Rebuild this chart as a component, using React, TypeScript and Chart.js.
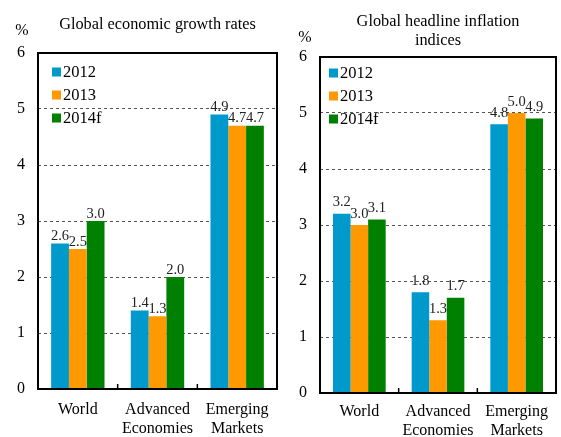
import React, { useEffect, useRef } from "react";
import { Chart, registerables } from "chart.js";

Chart.register(...registerables);

const categories: string[][] = [["World"], ["Advanced", "Economies"], ["Emerging", "Markets"]];
const seriesLabels = ["2012", "2013", "2014f"];
const seriesColors = ["#0099CC", "#FF9900", "#008000"];

const growth2012 = [2.6, 1.4, 4.9];
const growth2013 = [2.5, 1.3, 4.7];
const growth2014f = [3.0, 2.0, 4.7];

const inflation2012 = [3.2, 1.8, 4.8];
const inflation2013 = [3.0, 1.3, 5.0];
const inflation2014f = [3.1, 1.7, 4.9];

const yTicks = [0, 1, 2, 3, 4, 5, 6];

const FONT = "'Liberation Serif', 'Times New Roman', serif";

interface PanelProps {
  titleLines: string[];
  titleY: number[];
  pctY: number;
  pctX: number;
  series: number[][];
  width: number;
  height: number;
  area: { left: number; top: number; right: number; bottom: number };
  legendX: number;
  legendY: number;
  labelGap: number;
  xPad: number;
}

function Panel(p: PanelProps) {
  const ref = useRef<HTMLCanvasElement | null>(null);
  useEffect(() => {
    if (!ref.current) return;
    const overlay = {
      id: "overlay",
      afterDatasetsDraw(chart: any) {
        const ctx = chart.ctx as CanvasRenderingContext2D;
        const ca = chart.chartArea;
        ctx.save();
        // data labels
        ctx.fillStyle = "#222";
        ctx.font = `14.5px ${FONT}`;
        ctx.textAlign = "center";
        ctx.textBaseline = "bottom";
        chart.data.datasets.forEach((ds: any, di: number) => {
          const meta = chart.getDatasetMeta(di);
          meta.data.forEach((el: any, i: number) => {
            ctx.fillText(Number(ds.data[i]).toFixed(1), el.x, el.y - p.labelGap);
          });
        });
        // frame
        ctx.strokeStyle = "#000";
        ctx.lineWidth = 2;
        ctx.strokeRect(ca.left, ca.top, ca.right - ca.left, ca.bottom - ca.top);
        // category boundary ticks
        const xs = chart.scales.x;
        ctx.lineWidth = 1.5;
        for (let i = 0; i < categories.length - 1; i++) {
          const bx = (xs.getPixelForValue(i) + xs.getPixelForValue(i + 1)) / 2;
          ctx.beginPath();
          ctx.moveTo(bx, ca.bottom);
          ctx.lineTo(bx, ca.bottom - 5);
          ctx.stroke();
        }
        // legend
        ctx.font = `16.5px ${FONT}`;
        ctx.textAlign = "left";
        ctx.textBaseline = "middle";
        chart.data.datasets.forEach((ds: any, di: number) => {
          const y = p.legendY + di * 23;
          ctx.fillStyle = ds.backgroundColor;
          ctx.fillRect(p.legendX, y - 4.5, 9, 9);
          ctx.fillStyle = "#000";
          ctx.fillText(ds.label, p.legendX + 11, y + 1);
        });
        // title
        ctx.font = `16.3px ${FONT}`;
        ctx.textAlign = "center";
        ctx.textBaseline = "middle";
        const cx = (ca.left + ca.right) / 2;
        p.titleLines.forEach((t, i) => ctx.fillText(t, cx, p.titleY[i]));
        ctx.font = `16px ${FONT}`;
        ctx.fillText("%", p.pctX, p.pctY);
        ctx.restore();
      },
    };
    const chart = new Chart(ref.current, {
      type: "bar",
      data: {
        labels: categories,
        datasets: p.series.map((s, i) => ({
          label: seriesLabels[i],
          data: s,
          backgroundColor: seriesColors[i],
          borderWidth: 0,
          categoryPercentage: 0.67,
          barPercentage: 1.0,
        })),
      },
      options: {
        animation: false,
        responsive: false,
        devicePixelRatio: 1,
        layout: {
          padding: { top: p.area.top, right: p.width - p.area.right, left: 0, bottom: 0 },
        },
        plugins: { legend: { display: false }, title: { display: false }, tooltip: { enabled: false } },
        scales: {
          x: {
            grid: { display: false, drawTicks: false },
            border: { display: false },
            ticks: { color: "#000", font: { family: FONT, size: 16, lineHeight: 1.15 }, padding: p.xPad, maxRotation: 0 },
            afterFit: (s: any) => {
              s.height = p.height - p.area.bottom;
            },
          },
          y: {
            min: 0,
            max: 6,
            afterBuildTicks: (s: any) => {
              s.ticks = yTicks.map((v) => ({ value: v }));
            },
            grid: {
              drawTicks: false,
              color: (c: any) => (c.tick && c.tick.value > 0 && c.tick.value < 6 ? "#555" : "rgba(0,0,0,0)"),
              lineWidth: 1,
            },
            border: { display: false, dash: [3, 3] },
            ticks: { color: "#000", font: { family: FONT, size: 16 }, padding: 13 },
            afterFit: (s: any) => {
              s.width = p.area.left;
            },
          },
        },
      },
      plugins: [overlay],
    });
    return () => chart.destroy();
  }, []);
  return <canvas ref={ref} width={p.width} height={p.height} style={{ display: "block" }} />;
}

export default function App() {
  return (
    <div style={{ position: "absolute", left: 0, top: 0, width: 561, height: 437, background: "#fff", display: "flex" }}>
      <Panel
        titleLines={["Global economic growth rates"]}
        titleY={[25]}
        pctX={22}
        pctY={31}
        series={[growth2012, growth2013, growth2014f]}
        width={290}
        height={437}
        area={{ left: 38, top: 53, right: 277, bottom: 389 }}
        legendX={52}
        legendY={72}
        labelGap={0}
        xPad={12}
      />
      <Panel
        titleLines={["Global headline inflation", "indices"]}
        titleY={[22, 41]}
        pctX={15}
        pctY={38}
        series={[inflation2012, inflation2013, inflation2014f]}
        width={271}
        height={437}
        area={{ left: 30, top: 57, right: 266, bottom: 393 }}
        legendX={39}
        legendY={73}
        labelGap={4}
        xPad={10}
      />
    </div>
  );
}
